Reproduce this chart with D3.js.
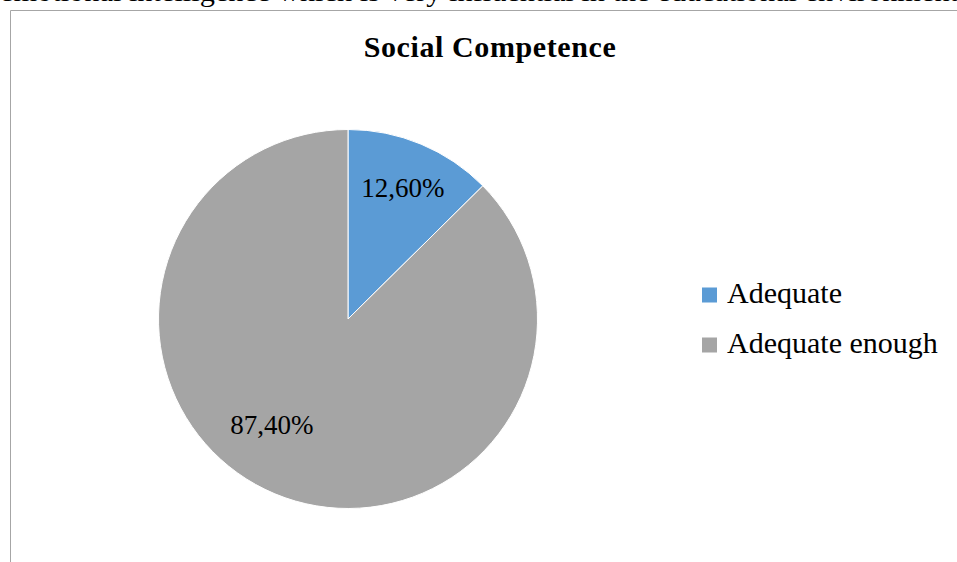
<!DOCTYPE html>
<html>
<head>
<meta charset="utf-8">
<script src="https://cdn.jsdelivr.net/npm/d3@7"></script>
<style>
  html, body { margin: 0; padding: 0; background: #fff; overflow: hidden; }
  svg { display: block; }
</style>
</head>
<body>
<div id="chart"></div>
<script>
// data
const categories = ['Adequate', 'Adequate enough'];
const values = [12.6, 87.4];
const valueLabels = ['12,60%', '87,40%'];
const colors = ['#5B9BD5', '#A5A5A5'];
const chartTitle = 'Social Competence';
const pageText = 'emotional intelligence which is very influential in the educational environment';

const width = 957, height = 562;
const serif = "'Liberation Serif', 'Times New Roman', serif";

const svg = d3.select('#chart').append('svg')
  .attr('width', width)
  .attr('height', height);

// text of the surrounding document, cut off at the top like in the source page
svg.append('text')
  .attr('x', 0)
  .attr('y', 1)
  .attr('textLength', 958)
  .attr('lengthAdjust', 'spacingAndGlyphs')
  .style('font-family', serif)
  .style('font-size', '28px')
  .style('fill', '#000')
  .text(pageText);

// chart frame (only left and top edges are visible)
svg.append('path')
  .attr('d', `M10.5,${height} L10.5,10.5 L${width},10.5`)
  .attr('fill', 'none')
  .attr('stroke', '#a6a6a6')
  .attr('stroke-width', 1);

// title
svg.append('text')
  .attr('x', 490)
  .attr('y', 57)
  .attr('text-anchor', 'middle')
  .style('font-family', serif)
  .style('font-size', '30px')
  .style('font-weight', 'bold')
  .style('letter-spacing', '0.6px')
  .style('fill', '#000')
  .text(chartTitle);

// pie
const cx = 348, cy = 319, radius = 189.5;
const pie = d3.pie().sort(null).value(d => d.value);
const arcs = pie(values.map((v, i) => ({ value: v, i })));
const arc = d3.arc().innerRadius(0).outerRadius(radius);

const g = svg.append('g').attr('transform', `translate(${cx},${cy})`);

g.selectAll('path.slice')
  .data(arcs)
  .enter()
  .append('path')
  .attr('class', 'slice')
  .attr('d', arc)
  .attr('fill', d => colors[d.data.i])
  .attr('stroke', '#fff')
  .attr('stroke-width', 1);

// data labels (Word pushes the big slice label a bit off its mid angle)
const labelRadius = [142, 130];
const labelNudge = [0, 13.2 * Math.PI / 180];
g.selectAll('text.value')
  .data(arcs)
  .enter()
  .append('text')
  .attr('class', 'value')
  .attr('transform', d => {
    const a = (d.startAngle + d.endAngle) / 2 + labelNudge[d.data.i];
    const r = labelRadius[d.data.i];
    return `translate(${r * Math.sin(a)},${-r * Math.cos(a)})`;
  })
  .attr('dy', '0.35em')
  .attr('text-anchor', 'middle')
  .style('font-family', serif)
  .style('font-size', '27px')
  .style('fill', '#000')
  .text(d => valueLabels[d.data.i]);

// legend
const legendY = d3.scalePoint().domain(categories).range([295, 345]);
const legend = svg.append('g').attr('class', 'legend');
const items = legend.selectAll('g')
  .data(categories)
  .enter()
  .append('g')
  .attr('transform', d => `translate(702,${legendY(d)})`);

items.append('rect')
  .attr('x', 0)
  .attr('y', -7.5)
  .attr('width', 15)
  .attr('height', 15)
  .attr('fill', (d, i) => colors[i]);

items.append('text')
  .attr('x', 25)
  .attr('y', 8)
  .style('font-family', serif)
  .style('font-size', '30px')
  .style('fill', '#000')
  .text(d => d);
</script>
</body>
</html>
